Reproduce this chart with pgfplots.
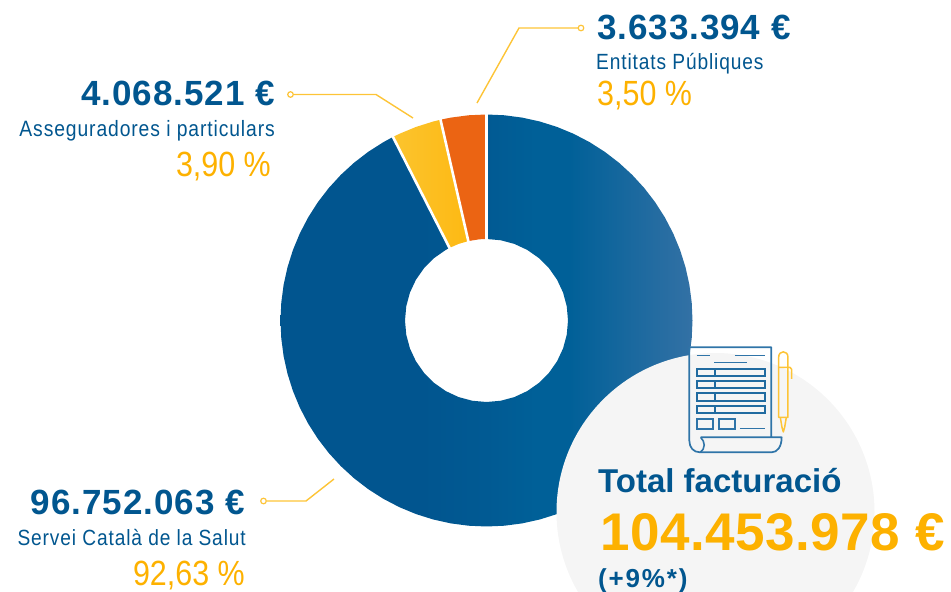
\documentclass[border=0pt]{standalone}
\usepackage{fontspec}
\usepackage{pgfplots}
\pgfplotsset{compat=1.18}
\setmainfont{Liberation Sans}
\newfontfamily\lab[FakeStretch=0.87]{Liberation Sans}
\newfontfamily\sublab[FakeStretch=0.87,LetterSpace=4]{Liberation Sans}
\newfontfamily\bignum[LetterSpace=2.7]{Liberation Sans Bold}
\newfontfamily\plainbold{Liberation Sans Bold}
\newfontfamily\totnum[LetterSpace=1]{Liberation Sans Bold}
\newfontfamily\plusnum[LetterSpace=7]{Liberation Sans Bold}
\definecolor{navy}{HTML}{01568F}
\definecolor{amber}{HTML}{FDB100}
\definecolor{leader}{HTML}{FDC437}
\definecolor{orangew}{HTML}{EB6413}
\definecolor{ink}{HTML}{2F74A8}
\definecolor{blA}{HTML}{01558F}
\definecolor{blB}{HTML}{015A93}
\definecolor{blC}{HTML}{006098}
\definecolor{blD}{HTML}{3371A5}
\definecolor{ylA}{HTML}{FCC42E}
\definecolor{ylB}{HTML}{FDB913}
\pgfdeclarehorizontalshading{blueg}{100bp}{color(0bp)=(blA); color(25bp)=(blA); color(42bp)=(blA); color(50bp)=(blB); color(56bp)=(blC); color(60bp)=(blC); color(75bp)=(blD); color(100bp)=(blD)}
\begin{document}
\begin{tikzpicture}[x=1pt,y=1pt]
\path[use as bounding box] (0,0) rectangle (951,592);
% doughnut, centre at origin, same frame as the picture
\begin{axis}[at={(0,0)},anchor=south west,scale only axis,width=951pt,height=592pt,
  xmin=-486.5,xmax=464.5,ymin=-271.5,ymax=320.5,axis lines=none,clip=true]
\addplot[draw=none,shading=blueg,data cs=polar] coordinates {
(117,206)(120,206)(125,206)(130,206)(135,206)(140,206)(145,206)(150,206)(155,206)(160,206)
(165,206)(170,206)(175,206)(180,206)(185,206)(190,206)(195,206)(200,206)(205,206)(210,206)
(215,206)(220,206)(225,206)(230,206)(235,206)(240,206)(245,206)(250,206)(255,206)(260,206)
(265,206)(270,206)(275,206)(280,206)(285,206)(290,206)(295,206)(300,206)(305,206)(310,206)
(315,206)(320,206)(325,206)(330,206)(335,206)(340,206)(345,206)(350,206)(355,206)(360,206)
(365,206)(370,206)(375,206)(380,206)(385,206)(390,206)(395,206)(400,206)(405,206)(410,206)
(415,206)(420,206)(425,206)(430,206)(435,206)(440,206)(445,206)(450,206)
(450,81.5)(440,81.5)(430,81.5)(420,81.5)(410,81.5)(400,81.5)(390,81.5)(380,81.5)(370,81.5)(360,81.5)
(350,81.5)(340,81.5)(330,81.5)(320,81.5)(310,81.5)(300,81.5)(290,81.5)(280,81.5)(270,81.5)(260,81.5)
(250,81.5)(240,81.5)(230,81.5)(220,81.5)(210,81.5)(200,81.5)(190,81.5)(180,81.5)(170,81.5)(160,81.5)
(150,81.5)(140,81.5)(130,81.5)(120,81.5)(117,81.5)
} --cycle;
\addplot[draw=none,left color=ylA,right color=ylB,data cs=polar] coordinates {
(102.9,206)(105,206)(110,206)(115,206)(117,206)(117,81.5)(110,81.5)(102.9,81.5)} --cycle;
\addplot[draw=none,fill=orangew,data cs=polar] coordinates {
(90,206)(95,206)(100,206)(102.9,206)(102.9,81.5)(95,81.5)(90,81.5)} --cycle;
\addplot[white,line width=2.6pt,data cs=polar] coordinates {(90,78)(90,210)};
\addplot[white,line width=2.6pt,data cs=polar] coordinates {(102.9,78)(102.9,210)};
\addplot[white,line width=2.6pt,data cs=polar] coordinates {(117,78)(117,210)};
\end{axis}
% overlay in picture pixel coordinates
\begin{axis}[at={(0,0)},anchor=south west,scale only axis,width=951pt,height=592pt,
  xmin=0,xmax=951,ymin=0,ymax=592,y dir=reverse,axis lines=none,clip=true]
\fill[black!4] (axis cs:715.5,512) circle [radius=159];
\addplot[leader,line width=1.4pt] coordinates {(293.5,94.5)(376,94.5)(413,118)};
\addplot[leader,line width=1.4pt] coordinates {(578,28)(519,28)(477,103)};
\addplot[leader,line width=1.4pt] coordinates {(266.5,501)(306,501)(334,479)};
\addplot[only marks,mark=*,mark size=2.8pt,mark options={fill=white,draw=leader,line width=1.2pt}] coordinates {(290.5,94.5)(581,28)(263.5,501)};
\node[anchor=base east,inner sep=0,navy,font=\fontsize{35}{35}\selectfont\bignum] at (axis cs:275,105) {4.068.521 €};
\node[anchor=base east,inner sep=0,navy,font=\fontsize{22.2}{22}\selectfont\sublab] at (axis cs:275,136) {Asseguradores i particulars};
\node[anchor=base east,inner sep=0,amber,font=\fontsize{35}{35}\selectfont\lab] at (axis cs:271,176.5) {3,90 \%};
\node[anchor=base west,inner sep=0,navy,font=\fontsize{35}{35}\selectfont\bignum] at (axis cs:597,39) {3.633.394 €};
\node[anchor=base west,inner sep=0,navy,font=\fontsize{22}{22}\selectfont\sublab] at (axis cs:596,69.5) {Entitats Públiques};
\node[anchor=base west,inner sep=0,amber,font=\fontsize{35}{35}\selectfont\lab] at (axis cs:597,105) {3,50 \%};
\node[anchor=base east,inner sep=0,navy,font=\fontsize{35}{35}\selectfont\bignum] at (axis cs:245,514) {96.752.063 €};
\node[anchor=base east,inner sep=0,navy,font=\fontsize{22}{22}\selectfont\sublab] at (axis cs:246,545) {Servei Català de la Salut};
\node[anchor=base east,inner sep=0,amber,font=\fontsize{35}{35}\selectfont\lab] at (axis cs:245,585) {92,63 \%};
\node[anchor=base west,inner sep=0,navy,font=\fontsize{33}{33}\selectfont\plainbold] at (axis cs:598,492) {Total facturació};
\node[anchor=base west,inner sep=0,amber,font=\fontsize{53}{53}\selectfont\totnum] at (axis cs:600,550) {104.453.978 €};
\node[anchor=base west,inner sep=0,navy,font=\fontsize{26}{26}\selectfont\plusnum] at (axis cs:598,587) {(+9\%*)};
\end{axis}
% invoice icon, in zoomed crop units (3 units per pixel)
\begin{scope}[shift={(660,592-330)},x=0.3333pt,y=-0.3333pt]
\draw[ink,line width=1.7pt,line join=round] (122,322) -- (365,322) .. controls (365,350) and (352,367) .. (335,367) -- (120,367) .. controls (100,367) and (88,352) .. (88,332) -- (88,52) -- (334,52) -- (334,322);
\draw[ink,line width=1.6pt] (122,322) .. controls (135,335) and (138,355) .. (120,367);
\draw[ink,line width=1.6pt] (110,77)--(150,77) (225,77)--(315,77) (162,98)--(260,98) (240,296)--(315,296);
\foreach \a/\b in {116/137,152/174,190/212,227/249}{
  \draw[ink!70!navy,line width=1.7pt] (112,\a) rectangle (316,\b) (165,\a)--(165,\b);
}
\draw[ink,line width=1.7pt] (112,268) rectangle (160,297) (178,268) rectangle (226,297);
\draw[leader,line width=1.5pt,line join=round] (356,262) -- (356,82) .. controls (356,60) and (384,60) .. (384,82) -- (384,262) -- cycle;
\draw[leader,line width=1.5pt] (356,112) -- (390,112) -- (395,118) -- (395,147);
\draw[leader,line width=1.5pt,line join=round] (361,262) -- (366,292) -- (370,306) -- (374,292) -- (379,262);
\end{scope}
\end{tikzpicture}
\end{document}
